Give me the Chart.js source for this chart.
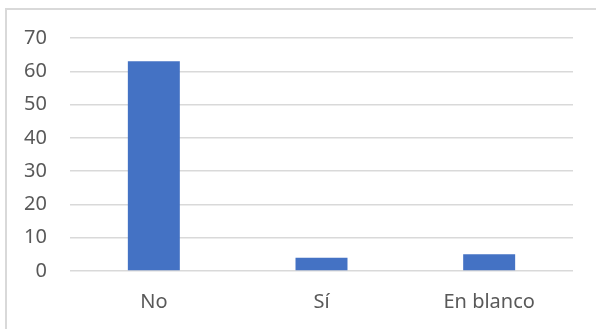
<!DOCTYPE html>
<html>
<head>
<meta charset="utf-8">
<script src="https://cdn.jsdelivr.net/npm/chart.js@4.4.1/dist/chart.umd.min.js"></script>
<style>
  html, body { margin: 0; padding: 0; background: #fff; overflow: hidden; }
  #frame {
    position: absolute; left: 5px; top: 8px; width: 600px; height: 330px;
    border-left: 2px solid #d9d9d9; border-top: 2px solid #d9d9d9;
  }
  #myChart { position: absolute; left: 0; top: 0; }
</style>
</head>
<body>
<div id="frame"></div>
<canvas id="myChart" width="596" height="329"></canvas>
<script>
// categories and counts
var categories = ["No", "Sí", "En blanco"];
var counts = [63, 4, 5];
var yTicks = [0, 10, 20, 30, 40, 50, 60, 70];

var textColor = "#595959";
var gridColor = "#d9d9d9";

var ctx = document.getElementById("myChart").getContext("2d");
var chart = new Chart(ctx, {
  type: "bar",
  data: {
    labels: categories,
    datasets: [{
      data: counts,
      backgroundColor: "#4472C4",
      borderWidth: 0,
      barPercentage: 1,
      categoryPercentage: 0.31
    }]
  },
  options: {
    responsive: false,
    animation: false,
    devicePixelRatio: 1,
    layout: { padding: { top: 38, right: 23, left: 0, bottom: 0 } },
    plugins: { legend: { display: false }, tooltip: { enabled: false } },
    scales: {
      x: {
        grid: { display: false, drawTicks: false },
        border: { display: false },
        ticks: {
          color: textColor,
          font: { family: "Noto Sans", size: 20 },
          padding: 19
        },
        afterFit: function (scale) { scale.height = 58; }
      },
      y: {
        min: 0,
        max: 70,
        afterBuildTicks: function (scale) {
          scale.ticks = yTicks.map(function (v) { return { value: v }; });
        },
        grid: { color: gridColor, lineWidth: 1.5, drawTicks: false },
        border: { display: false },
        ticks: {
          color: textColor,
          font: { family: "Noto Sans", size: 20 },
          padding: 23
        },
        afterFit: function (scale) { scale.width = 70; }
      }
    }
  }
});
</script>
</body>
</html>
